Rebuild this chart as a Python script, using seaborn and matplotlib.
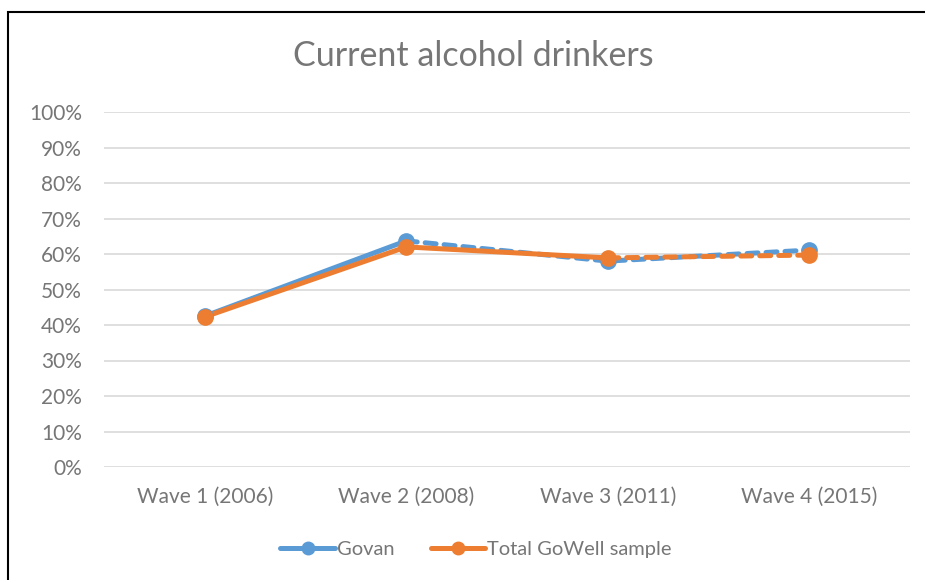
import matplotlib.pyplot as plt
import matplotlib.patches as mpatches
import seaborn as sns
import pandas as pd
from matplotlib.ticker import PercentFormatter

waves = ['Wave 1 (2006)', 'Wave 2 (2008)', 'Wave 3 (2011)', 'Wave 4 (2015)']
govan = [0.425, 0.637, 0.580, 0.611]
total = [0.423, 0.620, 0.589, 0.597]
# index of last wave joined by a solid line (dashed afterwards)
govan_solid_until = 1
total_solid_until = 2

blue = '#5B9BD5'
orange = '#ED7D31'
grey = '#767676'

rows = []
for name, vals, cut in [('Govan', govan, govan_solid_until),
                        ('Total GoWell sample', total, total_solid_until)]:
    for i, v in enumerate(vals):
        rows.append({'series': name, 'x': i, 'value': v, 'cut': cut})
df = pd.DataFrame(rows)

sns.set_style('white')
plt.rcParams['font.family'] = ['Lato', 'DejaVu Sans']

fig = plt.figure(figsize=(9.25, 5.8), dpi=100)
ax = fig.add_axes([104 / 925, 1 - 467 / 580, (910 - 104) / 925, (467 - 112) / 580])

palette = {'Govan': blue, 'Total GoWell sample': orange}
for name, color in palette.items():
    d = df[df['series'] == name]
    cut = d['cut'].iloc[0]
    solid = d[d['x'] <= cut]
    dashed = d[d['x'] >= cut]
    sns.lineplot(data=solid, x='x', y='value', color=color, lw=3.6, ax=ax,
                 solid_capstyle='round', zorder=3)
    sns.lineplot(data=dashed, x='x', y='value', color=color, lw=3.6, ax=ax,
                 linestyle=(0, (2.2, 1.6)), dash_capstyle='round', zorder=3)
    ax.plot(d['x'], d['value'], 'o', color=color, ms=11, zorder=4)

ax.set_xlim(-0.5, 3.5)
ax.set_ylim(0, 1)
ax.set_yticks([i / 10 for i in range(11)])
ax.yaxis.set_major_formatter(PercentFormatter(1.0, decimals=0))
ax.set_xticks(range(len(waves)))
ax.set_xticklabels(waves)
ax.tick_params(axis='both', colors=grey, labelsize=15, length=0)
ax.tick_params(axis='x', pad=14)
ax.tick_params(axis='y', pad=16)
ax.grid(axis='y', color='#D9D9D9', lw=1.2)
ax.set_axisbelow(True)
for s in ax.spines.values():
    s.set_visible(False)
ax.set_xlabel('')
ax.set_ylabel('')

fig.text(473 / 925, 1 - 56 / 580, 'Current alcohol drinkers', ha='center', va='center',
         fontsize=24.5, color=grey)

handles = [plt.Line2D([], [], color=blue, lw=3.6, marker='o', ms=9),
           plt.Line2D([], [], color=orange, lw=3.6, marker='o', ms=9)]
fig.legend(handles, ['Govan', 'Total GoWell sample'], loc='center',
           bbox_to_anchor=(476 / 925, 1 - 549 / 580), ncol=2, frameon=False,
           fontsize=14.5, labelcolor=grey, handlelength=2.7, handletextpad=0.1,
           columnspacing=1.8)

fig.patches.append(mpatches.Rectangle((7.5 / 925, -0.1), 1.2, 1 - 11.5 / 580 + 0.1,
                                      transform=fig.transFigure, fill=False,
                                      edgecolor='black', lw=1.5))

fig.savefig('out.png', dpi=100)
